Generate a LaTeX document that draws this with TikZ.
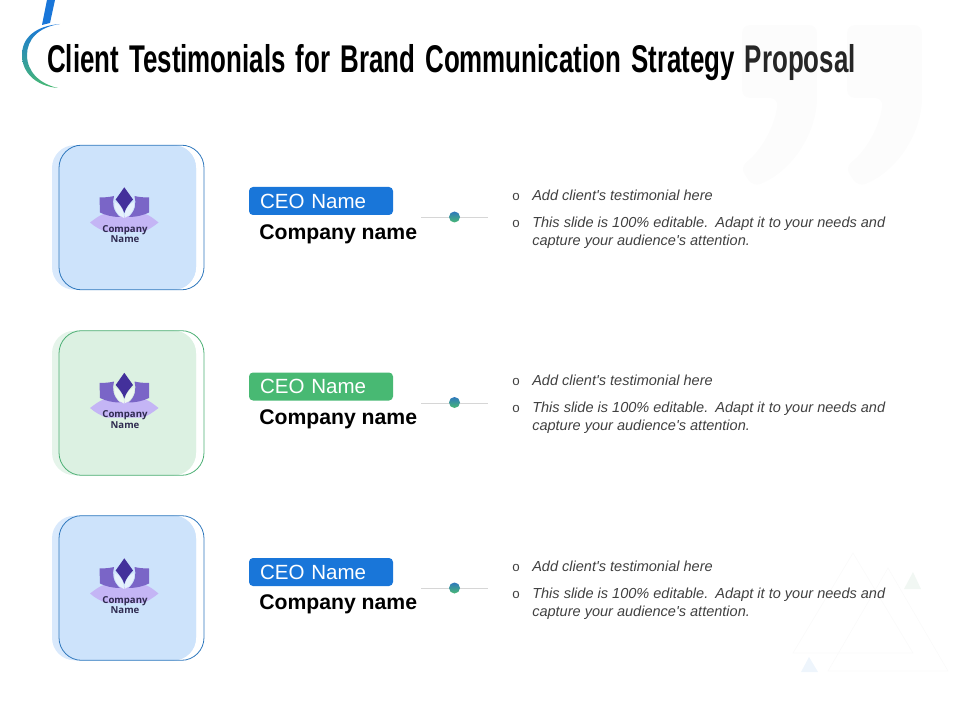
\documentclass[tikz,border=0pt]{standalone}
\usepackage{fontspec}
\newfontfamily\titlefont[FakeStretch=0.67,WordSpace=1.4]{Liberation Sans}
\newfontfamily\bodyfont{Liberation Sans}
\newfontfamily\logofont{Open Sans}

\definecolor{brandblue}{HTML}{1976D9}
\definecolor{brandgreen}{HTML}{48B973}
\definecolor{blueback}{HTML}{D9E9FC}
\definecolor{bluecard}{HTML}{CDE3FB}
\definecolor{blueline}{HTML}{2F78BD}
\definecolor{greenback}{HTML}{E5F4EA}
\definecolor{greencard}{HTML}{DCF1E2}
\definecolor{greenline}{HTML}{4CAF74}
\definecolor{lotusdark}{HTML}{43309B}
\definecolor{lotusmid}{HTML}{7A65C7}
\definecolor{lotuslight}{HTML}{C4B5F5}
\definecolor{lotustext}{HTML}{2E2A4F}
\definecolor{bodygray}{HTML}{404040}
\definecolor{fadegreen}{HTML}{F1F7F3}
\definecolor{fadeblue}{HTML}{EEF5FC}

% lotus logo, #1 = shift, #2 = petal colour, #3 = name of its label
\newcommand{\lotuslogo}[3]{
	\begin{scope}[shift={#1}]
		\fill[lotuslight] (90,222.5) .. controls (96,218) and (100,215) .. (104,214) .. controls (116,217) and (133,217) .. (145,214) .. controls (149,215) and (153,218) .. (158.5,222.5) .. controls (153,227) and (148,230) .. (143,232) -- (106,232) .. controls (101,230) and (95,227) .. (90,222.5) -- cycle;
		\fill[lotusmid] (99.5,197.5) .. controls (105,197.5) and (110,197) .. (114,196) .. controls (112,203) and (113,211) .. (120,217) .. controls (112,217) and (105,215) .. (100,212.5) -- cycle;
		\fill[lotusmid] (149,197.5) .. controls (143.5,197.5) and (138.5,197) .. (134.5,196) .. controls (136.5,203) and (135.5,211) .. (128.5,217) .. controls (136.5,217) and (144,215) .. (149,212.5) -- cycle;
		\fill[#2] (114.5,202) .. controls (120,204) and (123.5,209) .. (124,218) .. controls (118,216) and (113.5,209) .. (114.5,202) -- cycle;
		\fill[#2] (134,202) .. controls (128.5,204) and (125,209) .. (124.5,218) .. controls (130.5,216) and (135,209) .. (134,202) -- cycle;
		\fill[lotusdark] (124.3,187.3) -- (133,199.5) .. controls (130,203) and (126,207) .. (124.3,213) .. controls (122.5,207) and (118.5,203) .. (115.7,199.5) -- cycle;
		\node [logolabel] (#3) at (125,234) {Company\\Name};
	\end{scope}
}

\begin{document}
\begin{tikzpicture}[x=0.75pt,y=-0.75pt]
	\tikzstyle{cardback}=[rectangle,rounded corners=17pt,minimum width=108pt,minimum height=108.5pt,inner sep=0pt]
	\tikzstyle{cardfront}=[rectangle,rounded corners=17pt,minimum width=102.75pt,minimum height=108.5pt,inner sep=0pt]
	\tikzstyle{cardoutline}=[rectangle,rounded corners=17pt,minimum width=108.75pt,minimum height=108.5pt,inner sep=0pt,line width=0.6pt]
	\tikzstyle{badge}=[rectangle,rounded corners=3pt,minimum height=21pt,text width=91.5pt,inner xsep=8.25pt,inner ysep=0pt,text=white,align=left,font=\bodyfont\fontsize{15.4}{18}\selectfont]
	\tikzstyle{company}=[anchor=base west,inner sep=0pt,font=\bodyfont\bfseries\fontsize{15.9}{18}\selectfont]
	\tikzstyle{dot}=[circle,minimum size=8.25pt,inner sep=0pt,top color=blueline,bottom color=brandgreen]
	\tikzstyle{edge}=[draw=black!16,line width=0.5pt]
	\tikzstyle{bullet}=[anchor=base,inner sep=0pt,text=bodygray,font=\bodyfont\fontsize{10}{12}\selectfont]
	\tikzstyle{quote}=[anchor=base west,inner sep=0pt,text=bodygray,align=left,font=\bodyfont\itshape\fontsize{10.9}{13.5}\selectfont]
	\tikzstyle{logolabel}=[inner sep=0pt,align=center,text=lotustext,font=\logofont\bfseries\fontsize{7.2}{6.6}\selectfont]
	\tikzstyle{faint}=[draw=black!2,line width=0.5pt]

	\useasboundingbox (0,0) rectangle (960,720);

	\fill[black!1.2,rounded corners=6pt] (742,25) -- (817,25) -- (817,90) .. controls (817,130) and (795,170) .. (753,187) -- (740,167) .. controls (762,150) and (775,125) .. (778,98) -- (742,98) -- cycle;
	\fill[black!1.2,rounded corners=6pt] (847,25) -- (922,25) -- (922,90) .. controls (922,130) and (900,170) .. (858,187) -- (845,167) .. controls (867,150) and (880,125) .. (883,98) -- (847,98) -- cycle;

	\draw[faint] (853,553) -- (913,653) -- (793,653) -- cycle;
	\draw[faint] (888,568) -- (948,671) -- (828,671) -- cycle;
	\fill[fadegreen] (913,572) -- (921,589) -- (904,589) -- cycle;
	\fill[fadeblue] (809,657) -- (818,672) -- (801,672) -- cycle;

	\fill[brandblue] (47,0) -- (55,0) -- (50,23) -- (42,25) -- cycle;
	\shade[top color=brandblue,middle color=blueline!85!brandgreen,bottom color=brandgreen] (60,24) .. controls (35,26) and (22,38) .. (22,55) .. controls (22,72) and (35,86) .. (58,88) .. controls (40,84) and (27,72) .. (27,55) .. controls (27,40) and (38,27) .. (60,24) -- cycle;

	\node [anchor=base west,inner sep=0pt,font=\titlefont\bfseries\fontsize{29}{34}\selectfont] (title) at (47,72.5) {Client Testimonials for Brand Communication Strategy \textcolor{black!85}{Proposal}};

	\node [cardback,fill=blueback] (back1) at (124,217.5) {};
	\node [cardfront,fill=bluecard] (front1) at (127.5,217.5) {};
	\node [cardoutline,draw=blueline] (card1) at (131.5,217.5) {};
	\lotuslogo{(0,0)}{bluecard!50!white}{logo1}
	\node [badge,fill=brandblue] (ceo1) at (321,201) {CEO Name};
	\node [company] (name1) at (259,239.5) {Company name};
	\coordinate (left1) at (421,217);
	\coordinate (right1) at (488,217);
	\path[edge] (left1) -- (right1);
	\node [dot] (dot1) at (454.5,217) {};
	\node [bullet] (o1a) at (516,200.5) {o};
	\node [quote] (text1a) at (532,200.5) {Add client's testimonial here};
	\node [bullet] (o1b) at (516,227.5) {o};
	\node [quote] (text1b) at (532,245.5) {This slide is 100\% editable.\hspace{0.12em} Adapt it to your needs and\\capture your audience's attention.};

	\node [cardback,fill=greenback] (back2) at (124,403) {};
	\node [cardfront,fill=greencard] (front2) at (127.5,403) {};
	\node [cardoutline,draw=greenline] (card2) at (131.5,403) {};
	\lotuslogo{(0,185.5)}{greencard!50!white}{logo2}
	\node [badge,fill=brandgreen] (ceo2) at (321,386.5) {CEO Name};
	\node [company] (name2) at (259,424.5) {Company name};
	\coordinate (left2) at (421,403);
	\coordinate (right2) at (488,403);
	\path[edge] (left2) -- (right2);
	\node [dot] (dot2) at (454.5,402.5) {};
	\node [bullet] (o2a) at (516,385.5) {o};
	\node [quote] (text2a) at (532,385.5) {Add client's testimonial here};
	\node [bullet] (o2b) at (516,412.5) {o};
	\node [quote] (text2b) at (532,430.5) {This slide is 100\% editable.\hspace{0.12em} Adapt it to your needs and\\capture your audience's attention.};

	\node [cardback,fill=blueback] (back3) at (124,588) {};
	\node [cardfront,fill=bluecard] (front3) at (127.5,588) {};
	\node [cardoutline,draw=blueline] (card3) at (131.5,588) {};
	\lotuslogo{(0,371)}{bluecard!50!white}{logo3}
	\node [badge,fill=brandblue] (ceo3) at (321,572) {CEO Name};
	\node [company] (name3) at (259,609.5) {Company name};
	\coordinate (left3) at (421,588);
	\coordinate (right3) at (488,588);
	\path[edge] (left3) -- (right3);
	\node [dot] (dot3) at (454.5,588) {};
	\node [bullet] (o3a) at (516,571) {o};
	\node [quote] (text3a) at (532,571) {Add client's testimonial here};
	\node [bullet] (o3b) at (516,598) {o};
	\node [quote] (text3b) at (532,616) {This slide is 100\% editable.\hspace{0.12em} Adapt it to your needs and\\capture your audience's attention.};
\end{tikzpicture}
\end{document}
